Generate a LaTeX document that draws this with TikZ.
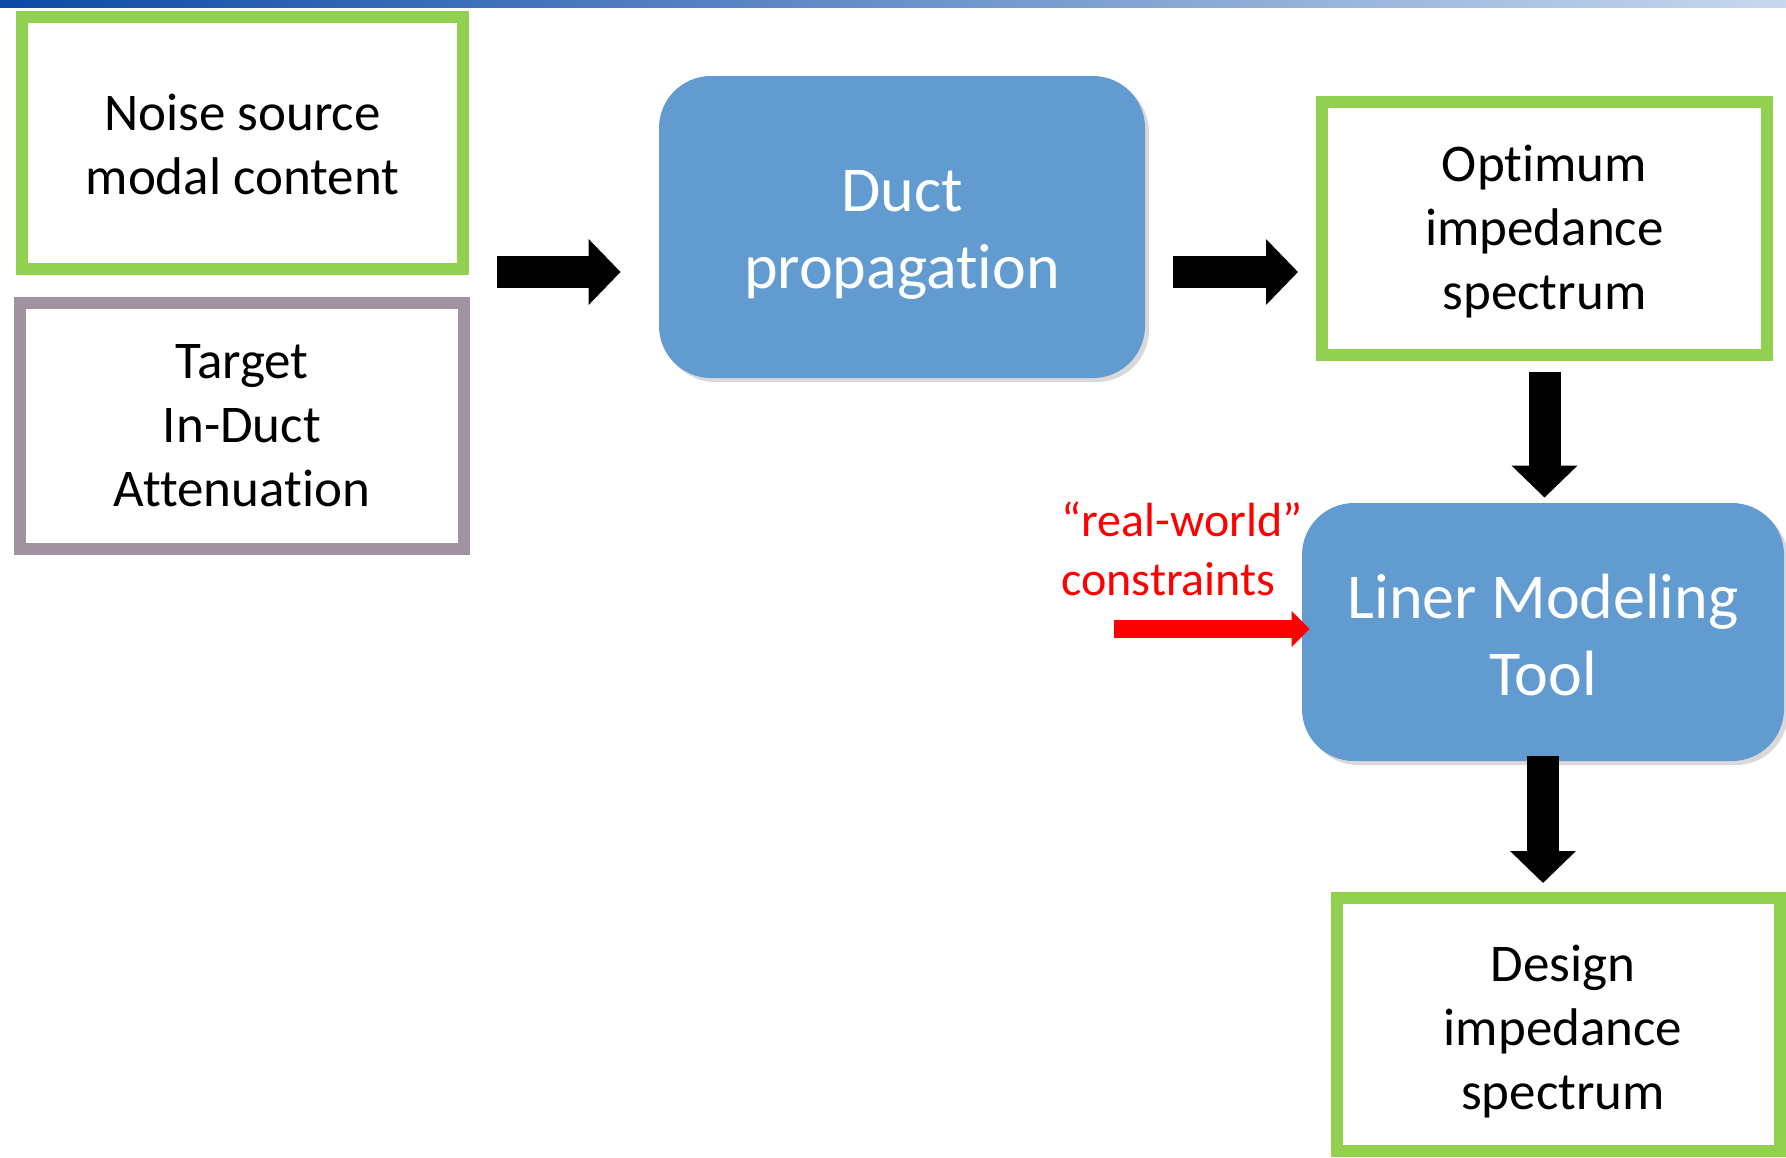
\documentclass[tikz,border=0pt]{standalone}
\usepackage{fontspec}
\setmainfont{Carlito}[Ligatures=NoCommon]
\usetikzlibrary{arrows.meta,shadows}
\definecolor{boxgreen}{HTML}{92D050}
\definecolor{boxgrey}{HTML}{A0939F}
\definecolor{ductblue}{HTML}{629BD0}
\definecolor{bardark}{HTML}{0B4AA5}
\definecolor{barmid}{HTML}{3C78C4}
\definecolor{barlight}{HTML}{C8D8EE}
\tikzset{
  textbox/.style = {rectangle, fill=white, line width=6pt, inner sep=0pt,
    drop shadow={opacity=0.3, shadow xshift=2pt, shadow yshift=-2pt}},
  greenbox/.style = {textbox, draw=boxgreen},% boite verte
  greybox/.style = {textbox, draw=boxgrey},% boite grise
  bluebox/.style = {rectangle, rounded corners=26pt, fill=ductblue, inner sep=0pt,
    drop shadow={opacity=0.3, shadow xshift=2pt, shadow yshift=-2pt}},
  blacktext/.style = {black, align=center, font=\fontsize{26.5}{32}\selectfont},
  whitetext/.style = {white, align=center, font=\fontsize{32}{38.5}\selectfont},
  blockarrow/.style = {line width=16pt, -{Triangle[length=16pt,width=32pt]}},
  redarrow/.style = {red, line width=9pt, -{Triangle[length=9pt,width=17.5pt]}},
  redtext/.style = {red, align=left, inner sep=0pt, font=\fontsize{24}{29.5}\selectfont}
}

\begin{document}
\begin{tikzpicture}[x=0.5pt,y=-0.5pt]
\useasboundingbox (0,0) rectangle (1786,1157);
\shade[left color=bardark, middle color=barmid, right color=barlight]
  (0,0) rectangle (1786,7);
% boites
\node [greenbox, minimum width=220.5pt, minimum height=126pt,
  label={[blacktext, yshift=-0.5pt]center:Noise source\\modal content}] (noise)
  at (242.5,143) {};
\node [greybox, minimum width=222pt, minimum height=123pt,
  label={[blacktext]center:Target\\In-Duct\\Attenuation}] (target)
  at (242,426) {};
\node [bluebox, minimum width=243pt, minimum height=151pt,
  label={[whitetext, yshift=-4pt]center:Duct\\propagation}] (duct)
  at (902,227) {};
\node [greenbox, minimum width=222.5pt, minimum height=126.5pt,
  label={[blacktext, yshift=-1.7pt]center:Optimum\\impedance\\spectrum}] (optimum)
  at (1544.5,228.5) {};
\node [bluebox, minimum width=241pt, minimum height=129pt,
  label={[whitetext, yshift=-1.7pt]center:Liner Modeling\\Tool}] (liner)
  at (1543,632) {};
\node [greenbox, minimum width=221.5pt, minimum height=126.5pt,
  label={[blacktext, xshift=2.3pt, yshift=-3.4pt]center:Design\\impedance\\spectrum}] (design)
  at (1558.5,1024.5) {};
\node [redtext, anchor=west] (constraints) at (1061,549) {“real-world”\\constraints};
% fleches
\coordinate (a1) at (497,272);
\coordinate (r1) at (1114,629);
\draw [blockarrow, shorten >=19pt] (a1) -- (a1 -| duct.west);
\draw [blockarrow, shorten <=14pt, shorten >=9pt] (duct.east |- a1) -- (optimum.west |- a1);
\draw [blockarrow, shorten <=5.5pt, shorten >=2.5pt] (optimum.south) -- (optimum.south |- liner.north);
\draw [blockarrow, shorten <=-2.5pt, shorten >=4.5pt] (liner.south) -- (liner.south |- design.north);
\draw [redarrow, shorten >=-4pt] (r1) -- (r1 -| liner.west);
\end{tikzpicture}
\end{document}
